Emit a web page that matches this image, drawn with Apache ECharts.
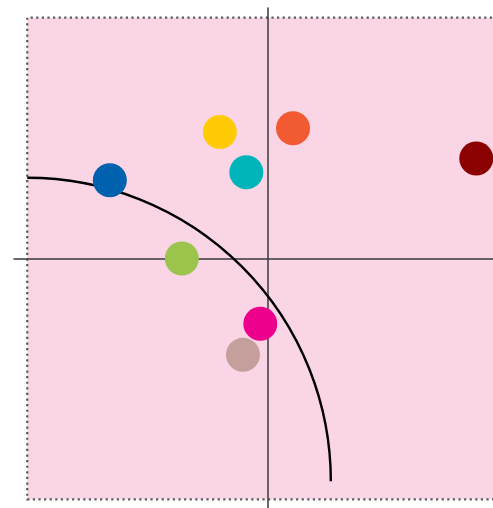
<!DOCTYPE html>
<html>
<head>
<meta charset="utf-8">
<script src="https://cdn.jsdelivr.net/npm/echarts@6/dist/echarts.min.js"></script>
<style>html,body{margin:0;padding:0;background:#fff}#c{width:493px;height:508px}</style>
</head>
<body>
<div id="c"></div>
<script>
// Data (axis units, origin at the crossing of the axes)
var pointX = [-0.657, -0.200, 0.104, -0.090, 0.865, -0.358, -0.032, -0.104];
var pointY = [0.325, 0.525, 0.541, 0.358, 0.415, 0.000, -0.271, -0.400];
var pointColors = ['#0061AE', '#FFCB05', '#F25A31', '#00B5BA', '#8B0000', '#9CC44D', '#EC008C', '#C49F9B'];
var regionMin = [-1, -1];
var regionMax = [1, 1];
var arcCenter = [-1, -0.925];
var arcRadius = 1.261;

var scatterData = pointX.map(function (x, i) {
  return { value: [x, pointY[i]], itemStyle: { color: pointColors[i], opacity: 1 } };
});

var chart = echarts.init(document.getElementById('c'), null, { renderer: 'canvas' });
chart.setOption({
  animation: false,
  backgroundColor: '#ffffff',
  grid: { left: 14, top: 8, width: 508, height: 501, containLabel: false, outerBoundsMode: 'none' },
  xAxis: {
    type: 'value', min: -1.055, max: 1.055, z: 1.5,
    splitLine: { show: false }, axisTick: { show: false }, axisLabel: { show: false },
    axisLine: { show: true, onZero: true, lineStyle: { color: '#3a3a3a', width: 1.5 } }
  },
  yAxis: {
    type: 'value', min: -1.04, max: 1.04, z: 1.5,
    splitLine: { show: false }, axisTick: { show: false }, axisLabel: { show: false },
    axisLine: { show: true, onZero: true, lineStyle: { color: '#3a3a3a', width: 1.5 } }
  },
  series: [
    {
      type: 'scatter', data: [], silent: true,
      markArea: {
        silent: true, z: 0.5,
        itemStyle: { color: '#F9D5E5', opacity: 1, borderColor: '#5a5a5a', borderWidth: 2.2, borderType: [2.2, 3.4] },
        data: [[{ coord: regionMin }, { coord: regionMax }]]
      }
    },
    {
      type: 'custom', z: 3, silent: true, clip: false,
      data: [[arcCenter[0], arcCenter[1], arcRadius]],
      renderItem: function (params, api) {
        var c = api.coord([api.value(0), api.value(1)]);
        var r = api.size([api.value(2), 0])[0];
        return {
          type: 'arc',
          shape: { cx: c[0], cy: c[1], r: r, startAngle: -Math.PI / 2, endAngle: 0, clockwise: true },
          style: { stroke: '#000', fill: null, lineWidth: 2.4 }
        };
      }
    },
    {
      type: 'scatter', z: 4, symbolSize: 34, silent: true,
      itemStyle: { opacity: 1 },
      data: scatterData
    }
  ]
});
</script>
</body>
</html>
